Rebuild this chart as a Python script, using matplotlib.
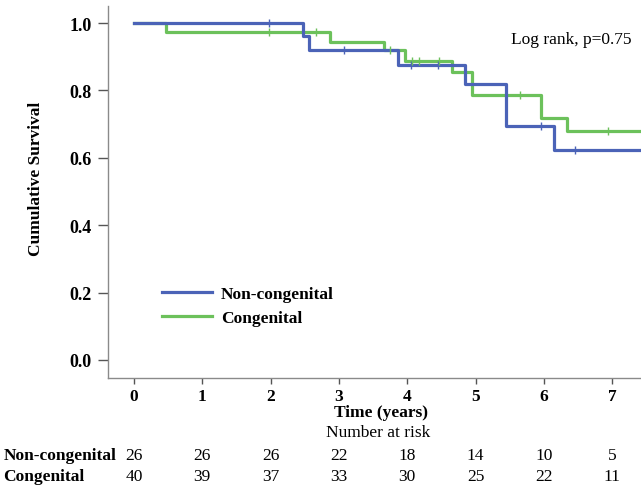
import matplotlib
matplotlib.use("Agg")
import matplotlib.pyplot as plt

# Kaplan-Meier step data
noncong_t = [0, 2.47, 2.56, 3.86, 4.85, 5.45, 6.15, 7.42]
noncong_s = [1.0, 0.962, 0.919, 0.876, 0.820, 0.696, 0.624, 0.624]
noncong_cens_t = [1.97, 3.07, 4.05, 4.45, 5.95, 6.45]

cong_t = [0, 0.47, 2.87, 3.66, 3.97, 4.66, 4.95, 5.95, 6.34, 7.42]
cong_s = [1.0, 0.975, 0.945, 0.919, 0.888, 0.856, 0.788, 0.718, 0.679, 0.679]
cong_cens_t = [1.97, 2.67, 3.75, 4.07, 4.17, 4.47, 5.65, 6.94]

risk_times = [0, 1, 2, 3, 4, 5, 6, 7]
risk_noncong = [26, 26, 26, 22, 18, 14, 10, 5]
risk_cong = [40, 39, 37, 33, 30, 25, 22, 11]

blue = "#4b63b7"
green = "#6cc15b"
serif = "Liberation Serif"
fs = 12.5

def step_value(ts, ss, t):
    v = ss[0]
    for ti, si in zip(ts, ss):
        if ti <= t:
            v = si
    return v

fig = plt.figure(figsize=(6.41, 4.89), dpi=100)
ax = fig.add_axes([0.1685, 0.2249, 0.8315, 0.7608])

ax.step(noncong_t, noncong_s, where="post", color=blue, lw=2.3, label="Non-congenital", zorder=3)
ax.step(cong_t, cong_s, where="post", color=green, lw=2.3, label="Congenital", zorder=2)
ax.plot(noncong_cens_t, [step_value(noncong_t, noncong_s, t) for t in noncong_cens_t],
        ls="none", marker="|", ms=6, mew=1.0, color=blue, zorder=4)
ax.plot(cong_cens_t, [step_value(cong_t, cong_s, t) for t in cong_cens_t],
        ls="none", marker="|", ms=6, mew=1.0, color=green, zorder=4)

ax.set_xlim(-0.38, 7.42)
ax.set_ylim(-0.054, 1.051)
ax.set_xticks(risk_times)
ax.set_yticks([0.0, 0.2, 0.4, 0.6, 0.8, 1.0])
ax.set_yticklabels(["0.0", "0.2", "0.4", "0.6", "0.8", "1.0"])
for s in ["top", "right"]:
    ax.spines[s].set_visible(False)
for s in ["left", "bottom"]:
    ax.spines[s].set_color("#8a8a8a")
    ax.spines[s].set_linewidth(1.0)
ax.tick_params(axis="y", direction="out", length=7, width=1.0, color="#555555", labelsize=13, pad=5)
ax.tick_params(axis="x", direction="out", length=4, width=1.0, color="#555555", labelsize=12.5, pad=3)
for lab in ax.get_xticklabels() + ax.get_yticklabels():
    lab.set_fontfamily(serif)
    lab.set_fontweight("bold")

ax.set_ylabel("Cumulative Survival", fontfamily=serif, fontweight="bold", fontsize=fs)
ax.yaxis.set_label_coords(-0.135, 0.538)
ax.yaxis.label.set_va("center")
ax.set_xlabel("Time (years)", fontfamily=serif, fontweight="bold", fontsize=fs)
ax.xaxis.set_label_coords(0.512, -0.091)
ax.xaxis.label.set_va("center")

ax.text(0.983, 0.911, "Log rank, p=0.75", transform=ax.transAxes, ha="right", va="center",
        fontfamily=serif, fontsize=fs)

leg = ax.legend(loc="center left", bbox_to_anchor=(0.088, 0.194), borderaxespad=0, frameon=False,
                prop={"family": serif, "weight": "bold", "size": fs},
                handlelength=2.9, handletextpad=0.5, labelspacing=0.45)

# Number at risk table
trans = matplotlib.transforms.blended_transform_factory(ax.transData, fig.transFigure)
fig.text(0.59, 1 - 433 / 489, "Number at risk", ha="center", va="center",
         fontfamily=serif, fontsize=fs)
y1 = 1 - 456 / 489
y2 = 1 - 477 / 489
fig.text(0.005, y1, "Non-congenital", ha="left", va="center", fontfamily=serif,
         fontweight="bold", fontsize=fs)
fig.text(0.005, y2, "Congenital", ha="left", va="center", fontfamily=serif,
         fontweight="bold", fontsize=fs)
for t, a, b in zip(risk_times, risk_noncong, risk_cong):
    ax.text(t, y1, str(a), transform=trans, ha="center", va="center", fontfamily=serif, fontsize=fs)
    ax.text(t, y2, str(b), transform=trans, ha="center", va="center", fontfamily=serif, fontsize=fs)

fig.savefig("out.png", dpi=100)
